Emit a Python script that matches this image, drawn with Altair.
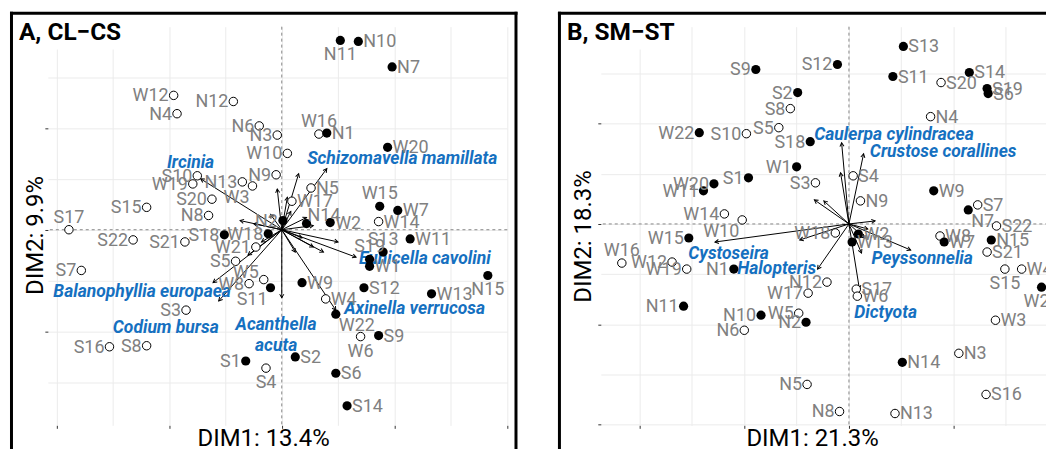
import math
import altair as alt
import pandas as pd

FONT = "Roboto"
BLUE = "#1570C0"
GRAY = "#808080"

# ---------------- Panel A : CL-CS ----------------
a_site = ["W12","N4","N12","N6","N3","W10","N9","W16","N1","N11","N10","N7","W20",
          "S10","W19","N13","W3","S20","S15","N8","S17","S22","S21","S18","W18","W21",
          "S5","W5","W8","S7","S3","S16","S8","S1","S11","S4","W9","W4","W22","S12",
          "W6","S9","S2","S6","S14","W13","N15","W11","S13","S19","W1","N5","W17",
          "W15","W7","W14","N14","W2","N2"]
a_dim1 = [-0.96,-0.93,-0.43,-0.20,-0.04,0.05,-0.05,0.33,0.40,0.52,0.68,0.98,0.94,
          -0.75,-0.79,-0.35,-0.26,-0.62,-1.20,-0.65,-1.89,-1.32,-0.86,-0.51,-0.12,-0.23,
          -0.41,-0.16,-0.29,-1.78,-0.85,-1.53,-1.20,-0.32,-0.10,-0.14,0.18,0.39,0.48,0.73,
          0.70,0.86,0.12,0.48,0.58,1.33,1.83,1.14,0.90,0.78,0.78,0.26,0.09,
          0.87,1.03,0.86,0.22,0.43,0.01]
a_dim2 = [1.32,1.14,1.26,1.02,0.93,0.75,0.54,0.94,0.95,1.86,1.85,1.60,0.81,
          0.53,0.45,0.47,0.43,0.30,0.22,0.14,0.00,-0.10,-0.12,-0.05,-0.04,-0.17,
          -0.31,-0.49,-0.53,-0.40,-0.79,-1.15,-1.14,-1.29,-0.57,-1.36,-0.52,-0.68,-0.83,-0.57,
          -1.05,-1.04,-1.25,-1.41,-1.73,-0.63,-0.45,-0.09,-0.22,-0.29,-0.36,0.41,0.28,
          0.23,0.19,0.08,0.06,0.07,0.09]
a_filled = [0,0,0,0,0,0,0,0,1,1,1,1,1,
            0,0,0,0,0,0,0,0,0,0,1,1,0,
            0,0,0,0,0,0,0,1,1,0,1,0,1,1,
            0,1,1,1,1,1,1,1,1,1,1,0,0,
            1,1,0,1,1,1]
a_side = ["l","l","l","l","l","l","l","a","r","b","r","r","r",
          "l","l","l","bl","l","l","l","a","l","l","l","l","l",
          "l","al","l","l","l","l","l","l","bl","b","r","r","br","r",
          "b","r","r","r","r","r","b","r","a","a","r","r","r",
          "a","r","r","ar","r","l"]

a_vec_x = [-0.72, 0.40, 0.15, -0.04, 0.05, 0.66, 0.50, 0.00, 0.48, -0.61, -0.56,
           -0.37, 0.37, 0.28, -0.25, 0.22, -0.18, 0.12, 0.28, -0.10, 0.08, -0.30, 0.18]
a_vec_y = [0.50, 0.60, 0.55, 0.40, 0.32, -0.27, -0.12, -0.67, -0.79, -0.52, -0.70,
           0.09, -0.22, -0.17, 0.06, 0.12, -0.12, -0.22, 0.04, 0.15, 0.18, -0.25, -0.08]

a_species = ["Ircinia", "Schizomavella mamillata", "Eunicella cavolini",
             "Axinella verrucosa", "Acanthella\nacuta", "Balanophyllia europaea",
             "Codium bursa"]
a_sp_x = [-0.81, 1.07, 1.27, 1.18, -0.05, -1.24, -1.03]
a_sp_y = [0.66, 0.69, -0.29, -0.78, -0.94, -0.61, -0.97]

# ---------------- Panel B : SM-ST ----------------
b_site = ["S9","S2","S8","W22","S10","S5","S18","W1","S3","S1","W20","W11","W14","W10",
          "S12","S13","S11","S14","S20","S19","S6","N4","S4","N9","W9","S7","N7","S22",
          "N15","S21","W8","W7","S15","W4","W3","W18","W2","W13","W21","N12","W17","S17",
          "W6","W5","N2","N14","N3","S16","N13","N8","N5","W15","W16","W12","W19","N1",
          "N11","N10","N6"]
b_dim1 = [-0.89,-0.49,-0.56,-1.43,-0.98,-0.67,-0.37,-0.50,-0.32,-0.96,-1.29,-1.39,-1.19,-1.02,
          -0.11,0.52,0.42,1.15,0.88,1.32,1.33,0.78,0.04,0.11,0.81,1.23,1.14,1.41,
          1.36,1.32,0.87,0.91,1.49,1.65,1.40,-0.13,0.09,0.03,1.84,-0.21,-0.39,0.07,
          0.08,-0.48,-0.41,0.51,1.05,1.31,0.44,-0.09,-0.40,-1.53,-2.17,-1.69,-1.55,-1.10,
          -1.58,-0.84,-1.00]
b_dim2 = [1.54,1.31,1.15,0.91,0.90,0.96,0.82,0.57,0.41,0.46,0.40,0.33,0.10,0.04,
          1.59,1.77,1.47,1.51,1.41,1.35,1.30,1.07,0.48,0.23,0.33,0.19,0.14,-0.02,
          -0.16,-0.28,-0.12,-0.18,-0.45,-0.45,-0.96,-0.09,-0.10,-0.18,-0.63,-0.58,-0.69,-0.65,
          -0.72,-0.89,-0.98,-1.38,-1.29,-1.70,-1.89,-1.87,-1.60,-0.14,-0.39,-0.38,-0.45,-0.45,
          -0.82,-0.91,-1.06]
b_filled = [1,1,0,1,0,0,1,1,0,1,1,1,0,0,
            1,1,1,1,0,1,1,0,0,0,1,0,1,0,
            1,0,0,1,0,0,0,0,1,1,1,0,0,0,
            0,0,1,1,0,0,0,0,0,1,0,0,0,1,
            1,1,0]
b_side = ["l","l","l","l","l","l","l","l","l","l","l","l","l","bl",
          "l","r","r","r","r","r","r","r","r","r","r","r","br","r",
          "r","r","r","r","b","r","r","l","r","r","b","l","l","r",
          "r","l","l","r","r","r","r","l","l","l","a","l","l","l",
          "l","l","l"]

b_vec_x = [-0.07, 0.14, -0.08, -0.33, -0.24, 0.25, 0.59, -0.30, 0.10, -1.28, -0.47, 0.15, 0.12, 0.18]
b_vec_y = [0.81, 0.70, 0.51, 0.24, 0.23, 0.03, -0.26, -0.45, -0.65, -0.18, -0.16, -0.14, -0.29, -0.05]

b_species = ["Caulerpa cylindracea", "Crustose corallines", "Cystoseira",
             "Halopteris", "Peyssonnelia", "Dictyota"]
b_sp_x = [0.43, 0.90, -1.15, -0.69, 0.70, 0.35]
b_sp_y = [0.89, 0.72, -0.30, -0.45, -0.35, -0.89]

# ---------------- layout / style ----------------
W, H = 461, 400

LABEL_STYLE = {
    "l": dict(align="right", dx=-5, dy=6),
    "r": dict(align="left", dx=5, dy=6),
    "a": dict(align="center", dx=0, dy=-7),
    "b": dict(align="center", dx=0, dy=20),
    "bl": dict(align="right", dx=-3, dy=17),
    "br": dict(align="left", dx=3, dy=17),
    "al": dict(align="right", dx=-5, dy=-2),
    "ar": dict(align="left", dx=1, dy=-3),
}

MAJOR = {"condition": {"test": "abs(datum.value % 1) < 0.001", "value": 1}, "value": 0}


def panel(tag, xtitle, ytitle, site, d1, d2, filled, side, vx, vy, sp, spx, spy,
          xdom, ydom, xgrid, ygrid, xt, yt, border_left, border_right, right_rule, box_right):
    xaxis = alt.Axis(title=xtitle, values=xgrid, grid=True, gridColor="#ebebeb", gridWidth=1,
                     labels=False, domain=False, ticks=True, tickSize=3, tickColor="#333333",
                     tickOpacity=MAJOR, titleFont=FONT, titleFontSize=24, titleFontWeight="normal",
                     titleColor="black", titleBaseline="alphabetic", titleX=xt[0], titleY=xt[1],
                     titleAlign="center")
    yaxis = alt.Axis(title=ytitle, values=ygrid, grid=True, gridColor="#ebebeb", gridWidth=1,
                     labels=False, domain=False, ticks=True, tickSize=3, tickColor="#333333",
                     tickOpacity=MAJOR, titleFont=FONT, titleFontSize=24, titleFontWeight="normal",
                     titleColor="black", titleBaseline="alphabetic", titleAngle=270,
                     titleX=yt[0], titleY=yt[1], titleAlign="center")
    xs = alt.Scale(domain=xdom, nice=False, zero=False)
    ys = alt.Scale(domain=ydom, nice=False, zero=False)

    def X(f):
        return alt.X(f, type="quantitative", scale=xs, axis=xaxis)

    def Y(f):
        return alt.Y(f, type="quantitative", scale=ys, axis=yaxis)

    pts = pd.DataFrame({"site": site, "d1": d1, "d2": d2, "filled": filled, "side": side})
    sxp = W / (xdom[1] - xdom[0])
    syp = H / (ydom[1] - ydom[0])
    vec = pd.DataFrame({"x0": [0.0] * len(vx), "y0": [0.0] * len(vx), "vx": vx, "vy": vy})
    vec["ang"] = [(math.degrees(math.atan2(a * sxp, b * syp)) + 360) % 360 for a, b in zip(vx, vy)]
    spd = pd.DataFrame({"name": sp, "x": spx, "y": spy})
    zero = pd.DataFrame({"z": [0.0]})
    one = pd.DataFrame({"k": [0]})

    layers = []
    layers.append(alt.Chart(zero).mark_rule(color="#888888", strokeDash=[3, 3], strokeWidth=1)
                  .encode(x=X("z")))
    layers.append(alt.Chart(zero).mark_rule(color="#888888", strokeDash=[3, 3], strokeWidth=1)
                  .encode(y=Y("z")))
    layers.append(alt.Chart(vec).mark_rule(color="black", strokeWidth=1)
                  .encode(x=X("x0"), y=Y("y0"), x2="vx", y2="vy"))
    layers.append(alt.Chart(vec).mark_point(shape="M -0.55 1 L 0 0 L 0.55 1", filled=False,
                                            color="black", strokeWidth=1, size=55, opacity=1)
                  .encode(x=X("vx"), y=Y("vy"), angle=alt.Angle("ang:Q", scale=None)))
    layers.append(alt.Chart(spd).mark_text(font=FONT, fontSize=17.5, fontWeight="bold",
                                           fontStyle="italic", color=BLUE, align="center",
                                           baseline="middle", lineBreak="\n", lineHeight=21)
                  .encode(x=X("x"), y=Y("y"), text="name:N"))
    layers.append(alt.Chart(pts).transform_filter("datum.filled == 0")
                  .mark_circle(fill="white", stroke="black", strokeWidth=1, size=72, opacity=1)
                  .encode(x=X("d1"), y=Y("d2")))
    layers.append(alt.Chart(pts).transform_filter("datum.filled == 1")
                  .mark_circle(color="black", size=85, opacity=1)
                  .encode(x=X("d1"), y=Y("d2")))
    for code, st in LABEL_STYLE.items():
        layers.append(alt.Chart(pts).transform_filter(f"datum.side == '{code}'")
                      .mark_text(font=FONT, fontSize=18, color=GRAY, baseline="alphabetic", **st)
                      .encode(x=X("d1"), y=Y("d2"), text="site:N"))
    # title box
    layers.append(alt.Chart(one).mark_rect(color="white")
                  .encode(x=alt.value(border_left + 2), x2=alt.value(box_right),
                          y=alt.value(-12), y2=alt.value(23)))
    layers.append(alt.Chart(one).mark_text(font=FONT, fontSize=24.5, fontWeight="bold", color="black",
                                           align="left", baseline="alphabetic")
                  .encode(x=alt.value(border_left + 7.5), y=alt.value(13.5), text=alt.value(tag)))
    # frame
    layers.append(alt.Chart(one).mark_rule(color="black", strokeWidth=3, strokeCap="square")
                  .encode(x=alt.value(border_left), y=alt.value(-13.5), y2=alt.value(440)))
    layers.append(alt.Chart(one).mark_rule(color="black", strokeWidth=3, strokeCap="square")
                  .encode(x=alt.value(border_left), x2=alt.value(border_right),
                          y=alt.value(-13.5)))
    if right_rule:
        layers.append(alt.Chart(one).mark_rule(color="black", strokeWidth=3, strokeCap="square")
                      .encode(x=alt.value(border_right), y=alt.value(-13.5), y2=alt.value(440)))
    return alt.layer(*layers).properties(width=W, height=H)


grid_a_x = [-2, -1.5, -1, -0.5, 0, 0.5, 1, 1.5, 2]
grid_a_y = [-1.5, -1, -0.5, 0, 0.5, 1, 1.5, 2]
grid_b_x = [-2, -1.5, -1, -0.5, 0, 0.5, 1, 1.5, 2]
grid_b_y = [-2, -1.5, -1, -0.5, 0, 0.5, 1, 1.5]

pa = panel("A, CL\u2212CS", "DIM1: 13.4%", "DIM2: 9.9%", a_site, a_dim1, a_dim2, a_filled, a_side,
           a_vec_x, a_vec_y, a_species, a_sp_x, a_sp_y,
           [-2.077, 2.003], [-1.922, 1.995], grid_a_x, grid_a_y,
           (216, 20), (-5.3, 209), -36.5, 469.7, True, 86)
pb = panel("B, SM\u2212ST", "DIM1: 21.3%", "DIM2: 18.3%", b_site, b_dim1, b_dim2, b_filled, b_side,
           b_vec_x, b_vec_y, b_species, b_sp_x, b_sp_y,
           [-2.371, 2.019], [-2.008, 1.967], grid_b_x, grid_b_y,
           (212, 20.5), (-10, 210), -41.5, 470, False, 80)

chart = alt.hconcat(pa, pb, spacing=38.8).properties(
    padding={"left": 1, "top": 2, "right": -25.5, "bottom": -20.5}
).configure_view(stroke=None)

chart.save("out.html", embed_options={"renderer": "svg", "actions": False})
